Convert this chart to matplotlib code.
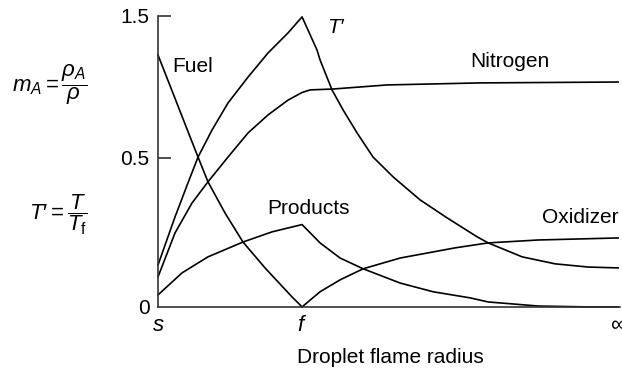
import matplotlib
matplotlib.use("Agg")
import matplotlib.pyplot as plt

# x: s = 0, f = 1, far field (infinity) = 3.19 ; y: relative height of the schematic
x_inf = 3.194

# temperature T'
t_x = [0, 0.118, 0.208, 0.278, 0.375, 0.486, 0.625, 0.764, 0.903, 1.0,
       1.104, 1.125, 1.208, 1.285, 1.382, 1.493, 1.632, 1.819, 2.007, 2.215,
       2.292, 2.528, 2.757, 2.986, 3.194]
t_y = [0.144, 0.309, 0.426, 0.515, 0.608, 0.701, 0.790, 0.873, 0.942, 0.997,
       0.883, 0.849, 0.746, 0.677, 0.598, 0.515, 0.447, 0.368, 0.306, 0.241,
       0.220, 0.172, 0.148, 0.137, 0.134]

nitrogen_x = [0, 0.118, 0.236, 0.347, 0.486, 0.625, 0.764, 0.903, 1.0,
              1.056, 1.215, 1.590, 2.236, 3.194]
nitrogen_y = [0.103, 0.254, 0.357, 0.430, 0.515, 0.598, 0.660, 0.711, 0.737,
              0.746, 0.749, 0.763, 0.770, 0.773]

fuel_x = [0, 0.118, 0.208, 0.278, 0.347, 0.465, 0.590, 0.743, 0.931, 1.0]
fuel_y = [0.866, 0.717, 0.603, 0.515, 0.430, 0.323, 0.223, 0.134, 0.034, 0.0]

products_x = [0, 0.167, 0.347, 0.590, 0.792, 1.0, 1.125, 1.264, 1.424, 1.681,
              1.910, 2.167, 2.292, 2.639, 2.986, 3.194]
products_y = [0.041, 0.117, 0.172, 0.223, 0.258, 0.283, 0.220, 0.168, 0.131,
              0.082, 0.052, 0.031, 0.017, 0.003, 0.0, 0.0]

oxidizer_x = [1.0, 1.125, 1.264, 1.424, 1.681, 1.910, 2.063, 2.292, 2.639, 3.194]
oxidizer_y = [0.0, 0.052, 0.093, 0.131, 0.168, 0.189, 0.203, 0.220, 0.230, 0.237]

ytick_pos = [0, 0.512, 1.0]
ytick_labels = ["0", "0.5", "1.5"]
xtick_pos = [0, 1, x_inf]
xtick_labels = ["$s$", "$f$", "∞"]

plt.rcParams["font.family"] = ["Liberation Sans", "DejaVu Sans"]
plt.rcParams["mathtext.fontset"] = "custom"
plt.rcParams["mathtext.rm"] = "Liberation Sans"
plt.rcParams["mathtext.it"] = "Liberation Sans:italic"

fig = plt.figure(figsize=(6.22, 3.72), dpi=100)
ax = fig.add_axes([0.254, 0.175, 0.743, 0.782])

for xs, ys in [(t_x, t_y), (nitrogen_x, nitrogen_y), (fuel_x, fuel_y),
               (products_x, products_y), (oxidizer_x, oxidizer_y)]:
    ax.plot(xs, ys, color="black", lw=1.2, clip_on=False, solid_joinstyle="round")

ax.set_xlim(0, 3.208)
ax.set_ylim(0, 1.0)
for side in ["top", "right"]:
    ax.spines[side].set_visible(False)
for side in ["left", "bottom"]:
    ax.spines[side].set_color("#333333")
    ax.spines[side].set_linewidth(1.2)

ax.set_yticks(ytick_pos)
ax.set_yticklabels(ytick_labels, fontsize=15)
ax.tick_params(axis="y", direction="in", length=9, width=1.2, color="#333333", pad=6)
ax.yaxis.get_major_ticks()[0].tick1line.set_visible(False)
ax.set_xticks(xtick_pos)
ax.set_xticklabels(xtick_labels, fontsize=16)
ax.tick_params(axis="x", length=0, pad=6)

# curve labels
ax.text(0.097, 0.825, "Fuel", fontsize=15, va="center", ha="left")
ax.text(1.174, 0.962, "T′", fontsize=15, style="italic", va="center", ha="left")
ax.text(2.167, 0.845, "Nitrogen", fontsize=15, va="center", ha="left")
ax.text(0.757, 0.337, "Products", fontsize=15, va="center", ha="left")
ax.text(2.667, 0.306, "Oxidizer", fontsize=15, va="center", ha="left")

# left side definitions
fig.text(0.1415, 0.772, r"$m_A = \dfrac{\rho_A}{\rho}$", fontsize=16, ha="right", va="center")
fig.text(0.1415, 0.422, r"$T′ = \dfrac{T}{T_{\rm f}}$", fontsize=16, ha="right", va="center")

fig.text(0.627, 0.040, "Droplet flame radius", fontsize=15, ha="center", va="center")

fig.savefig("out.png", dpi=100)
